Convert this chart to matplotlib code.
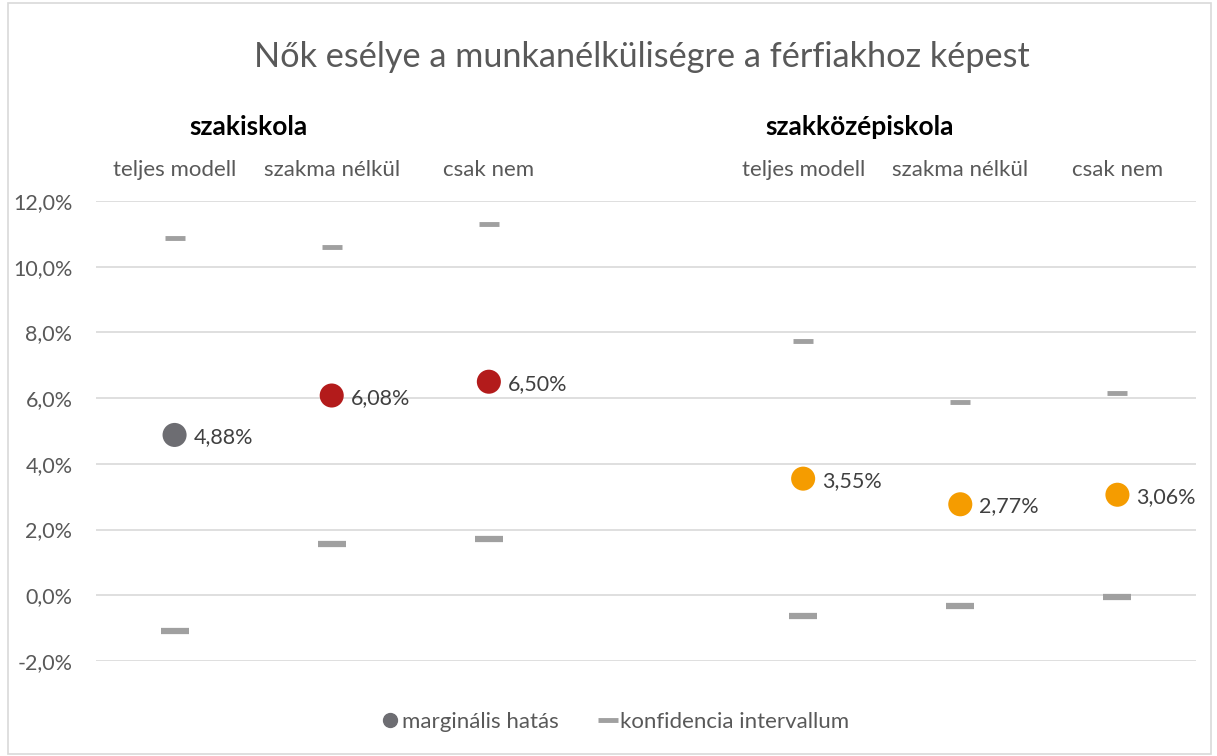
import numpy as np
import matplotlib.pyplot as plt
import matplotlib.transforms as mtransforms
from matplotlib.lines import Line2D
from matplotlib.patches import Rectangle

plt.rcParams["font.family"] = ["Lato", "DejaVu Sans"]

groups = ["szakiskola", "szakközépiskola"]
models = ["teljes modell", "szakma nélkül", "csak nem"]
# marginal effects in percent, per group
effect = [[4.88, 6.08, 6.50], [3.55, 2.77, 3.06]]
ci_low = [[-1.10, 1.55, 1.70], [-0.64, -0.33, -0.06]]
ci_high = [[10.87, 10.60, 11.30], [7.74, 5.88, 6.15]]
point_colors = [["#6d6d72", "#b31b1b", "#b31b1b"], ["#f59c00", "#f59c00", "#f59c00"]]
yticks = [-2, 0, 2, 4, 6, 8, 10, 12]

W, H = 1217, 756
fig = plt.figure(figsize=(W / 100, H / 100), dpi=100)
ax = fig.add_axes([96 / W, 1 - 661 / H, 1100 / W, 460 / H])

text_gray = "#595959"
ci_gray = "#a0a0a0"
header_shift = [0.47, 0.36]

trans = mtransforms.blended_transform_factory(ax.transData, ax.transAxes)
for g, grp in enumerate(groups):
    xs = np.arange(3) + 4 * g
    ax.plot(xs, ci_high[g], ls="none", marker="_", ms=15, mew=3.5, color=ci_gray, zorder=3)
    ax.plot(xs, ci_low[g], ls="none", marker="_", ms=20, mew=4.5, color=ci_gray, zorder=3)
    ax.scatter(xs, effect[g], s=300, c=point_colors[g], zorder=4, linewidths=0)
    for x, v in zip(xs, effect[g]):
        ax.annotate(f"{v:.2f}%".replace(".", ","), (x, v), xytext=(13.5, -1.5),
                    textcoords="offset points", ha="left", va="center",
                    fontsize=15.5, color="#404040")
    for x, m in zip(xs, models):
        ax.text(x, 1.067, m, transform=trans, ha="center", va="center",
                fontsize=16, color=text_gray)
    ax.text(xs[0] + header_shift[g], 1.16, grp, transform=trans, ha="center", va="center",
            fontsize=19, fontweight="bold", color="black")

ax.set_xlim(-0.5, 6.5)
ax.set_ylim(-2, 12)
ax.set_yticks(yticks)
ax.set_yticklabels([f"{t:.1f}%".replace(".", ",") for t in yticks])
ax.set_xticks([])
ax.tick_params(axis="y", length=0, pad=17, labelsize=15.5, labelcolor=text_gray)
ax.grid(axis="y", color="#d9d9d9", lw=1.2)
ax.set_axisbelow(True)
for s in ax.spines.values():
    s.set_visible(False)

fig.text(642 / W, 1 - 57 / H, "Nők esélye a munkanélküliségre a férfiakhoz képest",
         ha="center", va="center", fontsize=24.7, color=text_gray)

handles = [
    Line2D([], [], ls="none", marker="o", ms=10, color="#6d6d72"),
    Line2D([], [], ls="none", marker="_", ms=14, mew=3.5, color=ci_gray),
]
fig.legend(handles, ["marginális hatás", "konfidencia intervallum"],
           loc="center", bbox_to_anchor=(614 / W, 1 - 722 / H), ncol=2,
           frameon=False, fontsize=16, labelcolor=text_gray,
           handletextpad=0.05, columnspacing=1.7, handlelength=1.0)

fig.patches.append(Rectangle((8 / W, 0.002), 1 - 14 / W, 0.994, transform=fig.transFigure,
                             fill=False, edgecolor="#d9d9d9", lw=1.2))

fig.savefig("out.png", dpi=100)
